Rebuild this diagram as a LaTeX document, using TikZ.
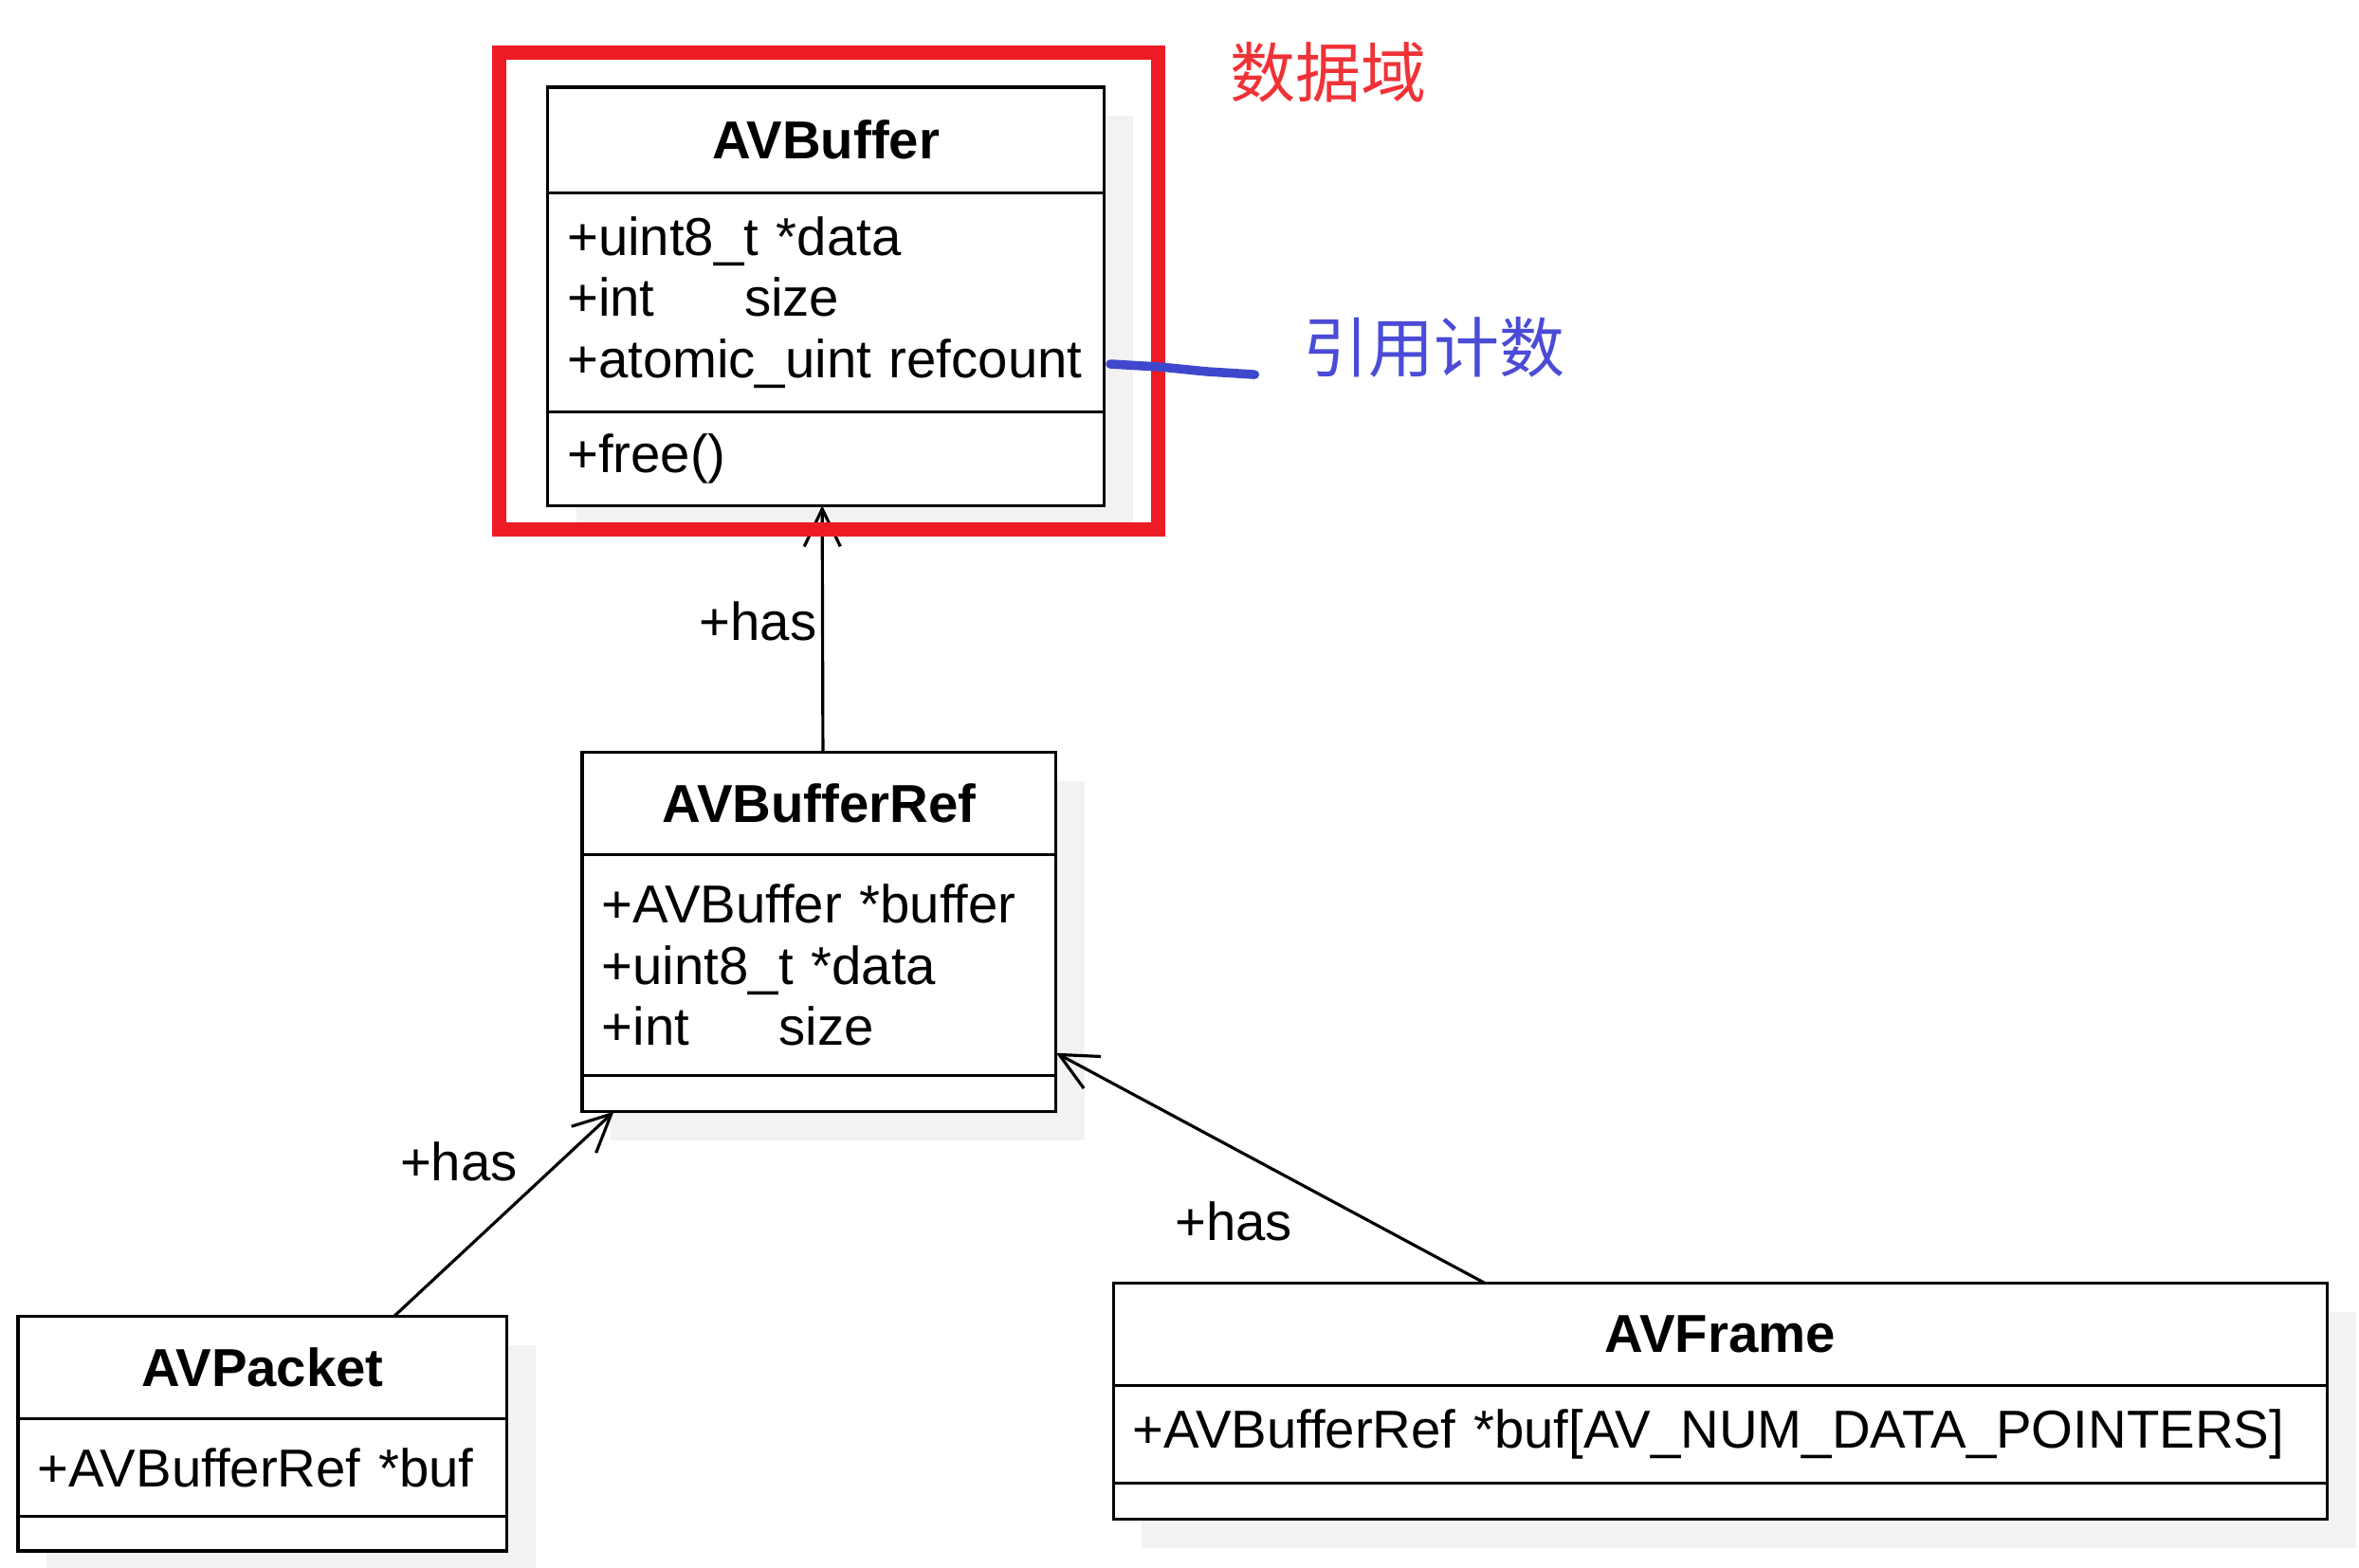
\documentclass[tikz,border=0pt]{standalone}
\usepackage{fontspec}
\setmainfont{Liberation Sans}
\newfontfamily\cjk{Noto Sans CJK SC}
\usetikzlibrary{positioning,shadows,arrows.meta}
\definecolor{shade}{RGB}{242,242,242}
\definecolor{hired}{RGB}{237,28,36}
\definecolor{redtext}{RGB}{240,50,55}
\definecolor{markblue}{RGB}{63,72,204}
\definecolor{bluetext}{RGB}{75,75,215}
\tikzset{
  umlbox/.style={draw, line width=2pt, fill=white, outer sep=0pt, inner sep=0pt,
    drop shadow={shadow xshift=19pt, shadow yshift=-19pt, fill=shade, opacity=1}},
  classname/.style={umlbox, font=\fontsize{35.5}{40.5}\selectfont\bfseries},
  members/.style={umlbox, align=left, inner xsep=13pt, font=\fontsize{35.5}{40.5}\selectfont},
  has/.style={line width=2pt, -{Straight Barb[length=25pt,width=24pt]}},
  lbl/.style={inner sep=3pt, font=\fontsize{35.5}{40.5}\selectfont}
}
\begin{document}
\begin{tikzpicture}[x=1pt, y=-1pt]
\useasboundingbox (0,0) rectangle (1568,1042);
% AVBuffer
\node[classname, minimum width=370pt, minimum height=70pt, anchor=north west] (buft) at (364,58) {AVBuffer};
\node[members, text width=344pt, minimum height=146pt, below=0pt of buft] (bufa) {+uint8\_t *data\\+int\hspace{1.68em}size\\+atomic\_uint refcount};
\node[members, text width=344pt, minimum height=62pt, below=0pt of bufa] (bufm) {+free()};
% AVBufferRef
\node[classname, minimum width=315pt, minimum height=68pt, anchor=north west] (reft) at (387,500) {AVBufferRef};
\node[members, text width=289pt, minimum height=147pt, below=0pt of reft] (refa) {+AVBuffer *buffer\\+uint8\_t *data\\+int\hspace{1.68em}size};
\node[umlbox, minimum width=315pt, minimum height=24pt, below=0pt of refa] (refm) {};
% AVPacket
\node[classname, minimum width=325pt, minimum height=68pt, anchor=north west] (pktt) at (12,875) {AVPacket};
\node[members, text width=299pt, minimum height=65pt, below=0pt of pktt] (pkta) {+AVBufferRef *buf};
\node[umlbox, minimum width=325pt, minimum height=23pt, below=0pt of pkta] (pktm) {};
% AVFrame
\node[classname, minimum width=807pt, minimum height=68pt, anchor=north west] (frmt) at (740,853) {AVFrame};
\node[members, text width=781pt, minimum height=65pt, below=0pt of frmt] (frma) {+AVBufferRef *buf[AV\_NUM\_DATA\_POINTERS]};
\node[umlbox, minimum width=807pt, minimum height=24pt, below=0pt of frma] (frmm) {};

\draw[has] ([xshift=2.5pt]reft.north) -- node[lbl, pos=0.53, left] {+has} ([xshift=-2.5pt]bufm.south);
\draw[has] ([xshift=87.5pt]pktt.north) -- node[lbl, pos=0.63, above left, xshift=-6pt] {+has} ([xshift=21pt]refm.south west);
\draw[has] ([xshift=-156.5pt]frmt.north) -- node[lbl, pos=0.27, left=47pt] {+has} ([yshift=15pt]refa.south east);

% annotations
\draw[hired, line width=9.5pt] (332,35) rectangle (770,352);
\node[font=\cjk\fontsize{43.5}{45}\selectfont, text=redtext] (dom) at (883,48) {数据域};
\node[font=\cjk\fontsize{43.5}{45}\selectfont, text=bluetext] (cnt) at (953,231) {引用计数};
\coordinate (rc) at (738,242);
\draw[markblue, line width=6pt, line cap=round, line join=round] (rc) -- ++(34,2) -- ++(30,3) -- ++(32,2);
\end{tikzpicture}
\end{document}
